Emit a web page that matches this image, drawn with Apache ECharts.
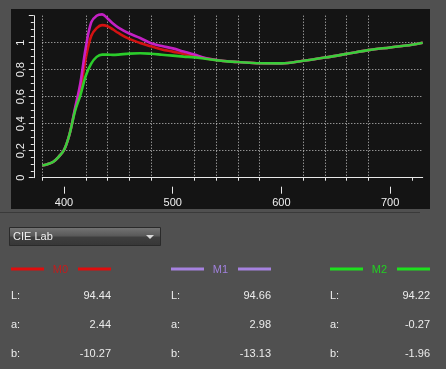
<!DOCTYPE html>
<html><head><meta charset="utf-8">
<script src="https://cdn.jsdelivr.net/npm/echarts@6/dist/echarts.min.js"></script>
<style>
html,body{margin:0;padding:0;background:#505050;width:446px;height:369px;overflow:hidden}
#panel{position:absolute;left:11px;top:9px;width:419px;height:200px;background:#141414}
#chart{position:absolute;left:0;top:0;width:446px;height:369px}
</style></head><body>
<div id="panel"></div><div id="chart"></div>
<script>
// ---- data ----
const wavelengths = [380,390,395,400,405,410,415,420,425,430,435,440,445,450,460,470,480,490,500,510,520,530,540,550,560,580,600,620,640,660,680,700,720,730];
const m0 = [0.09,0.118,0.155,0.205,0.32,0.50,0.65,0.885,1.05,1.108,1.13,1.122,1.098,1.072,1.028,0.998,0.973,0.95,0.934,0.917,0.903,0.884,0.872,0.862,0.857,0.848,0.847,0.866,0.89,0.917,0.945,0.965,0.985,1.0];
const m1 = [0.09,0.118,0.155,0.205,0.32,0.51,0.70,0.965,1.15,1.20,1.21,1.18,1.142,1.112,1.068,1.035,0.996,0.975,0.958,0.935,0.912,0.887,0.873,0.862,0.857,0.848,0.847,0.866,0.89,0.917,0.945,0.965,0.985,1.0];
const m2 = [0.09,0.118,0.155,0.205,0.32,0.49,0.61,0.755,0.845,0.895,0.912,0.912,0.91,0.912,0.919,0.922,0.918,0.911,0.904,0.897,0.891,0.881,0.871,0.862,0.857,0.848,0.847,0.866,0.89,0.917,0.945,0.965,0.985,1.0];
const xTickLabels = [400,500,600,700];
const yTickLabels = [0,0.2,0.4,0.6,0.8,1];
const seriesNames = ['M0','M1','M2'];
const lValues = ['94.44','94.66','94.22'];
const aValues = ['2.44','2.98','-0.27'];
const bValues = ['-10.27','-13.13','-1.96'];
const rowLabels = ['L:','a:','b:'];
const colorSpace = 'CIE Lab';

// ---- styles ----
const lineColors = ['#e41212','#d422d4','#2edc2e'];
const legendLineColors = ['#e00d0d','#a682e0','#1ee01e'];
const legendTextColors = ['#c41c1c','#a080dc','#22d022'];
const FONT = '11px "Liberation Sans", Arial, sans-serif';
const gridColor = '#c8c8c8';
const axisColor = '#e8e8e8';

// minor tick positions (every 20 nm, skipping labelled ones)
const minorX = [];
for (let v = 380; v < 730; v += 20) if (!xTickLabels.includes(v)) minorX.push(v);

const chart = echarts.init(document.getElementById('chart'), null, {renderer:'canvas'});
const seriesVals = [m0, m1, m2];

const series = seriesNames.map((n, i) => ({
  name: n, type: 'line', xAxisIndex: 0, yAxisIndex: 0,
  data: wavelengths.map((w, k) => [w, seriesVals[i][k]]),
  smooth: 0.35, showSymbol: false, clip: false,
  lineStyle: {color: lineColors[i], width: 2.6, opacity: 0.92},
  z: i === 2 ? 3 : 2
}));

// bottom panel graphics
const g = [];
g.push({type:'line', shape:{x1:0,y1:212.5,x2:420,y2:212.5}, style:{stroke:'#3a3a3a', lineWidth:1}});
g.push({type:'rect', shape:{x:9.5,y:227.5,width:151,height:18},
  style:{fill:new echarts.graphic.LinearGradient(0,0,0,1,[{offset:0,color:'#767676'},{offset:0.45,color:'#5a5a5a'},{offset:0.55,color:'#3e3e3e'},{offset:1,color:'#363636'}]), stroke:'#2a2a2a', lineWidth:1}});
g.push({type:'text', style:{text:colorSpace, x:13, y:237, fill:'#f0f0f0', font:FONT, textAlign:'left', textVerticalAlign:'middle'}});
g.push({type:'polygon', shape:{points:[[146,235],[154,235],[150,239]]}, style:{fill:'#d8d8d8'}});
const colX = [11, 171, 330];
const rowY = [296, 325, 354];
const rowVals = [lValues, aValues, bValues];
seriesNames.forEach((n, i) => {
  const x = colX[i];
  g.push({type:'line', shape:{x1:x,y1:269,x2:x+33,y2:269}, style:{stroke:legendLineColors[i], lineWidth:3}});
  g.push({type:'line', shape:{x1:x+67,y1:269,x2:x+100,y2:269}, style:{stroke:legendLineColors[i], lineWidth:3}});
  g.push({type:'text', style:{text:n, x:x+49.5, y:270, fill:legendTextColors[i], font:FONT, textAlign:'center', textVerticalAlign:'middle'}});
  rowLabels.forEach((rl, r) => {
    g.push({type:'text', style:{text:rl, x:x, y:rowY[r], fill:'#ececec', font:FONT, textAlign:'left', textVerticalAlign:'middle'}});
    g.push({type:'text', style:{text:rowVals[r][i], x:x+100, y:rowY[r], fill:'#ececec', font:FONT, textAlign:'right', textVerticalAlign:'middle'}});
  });
});

chart.setOption({
  backgroundColor: 'transparent',
  animation: false,
  grid: {left: 42.3, right: 23.3, top: 15.7, bottom: 191.3},
  xAxis: [{
    type: 'value', min: 380, max: 730, interval: 20, position: 'bottom', offset: 9,
    axisLine: {show: true, lineStyle: {color: axisColor, width: 1}},
    axisTick: {show: true, length: 3, customValues: minorX, lineStyle: {color: axisColor}},
    axisLabel: {show: false},
    splitLine: {show: true, showMinLine: true, showMaxLine: false, lineStyle: {color: gridColor, type: [1,2], width: 1}}
  }, {
    type: 'value', min: 380, max: 730, position: 'bottom', offset: 9,
    axisLine: {show: false},
    axisTick: {show: true, length: 7, customValues: xTickLabels, lineStyle: {color: axisColor}},
    axisLabel: {show: true, customValues: xTickLabels, color: '#f0f0f0', fontSize: 11, fontFamily: '"Liberation Sans", Arial, sans-serif', margin: 11},
    splitLine: {show: false}
  }],
  yAxis: [{
    type: 'value', min: 0, max: 1.2, interval: 0.2, offset: 8.5,
    axisLine: {show: true, lineStyle: {color: axisColor, width: 1}},
    axisTick: {show: true, length: 5, lineStyle: {color: axisColor}},
    minorTick: {show: true, splitNumber: 4, length: 3, lineStyle: {color: axisColor}},
    axisLabel: {show: true, rotate: 90, margin: 7, color: '#f0f0f0', fontSize: 11,
      fontFamily: '"Liberation Sans", Arial, sans-serif',
      formatter: v => { const t = yTickLabels.find(y => Math.abs(y - v) < 1e-6); return t === undefined ? '' : String(t).replace('.', ','); }},
    splitLine: {show: true, showMinLine: true, showMaxLine: false, lineStyle: {color: gridColor, type: [1,2], width: 1}}
  }],
  series: series,
  graphic: g
});
</script>
</body></html>
